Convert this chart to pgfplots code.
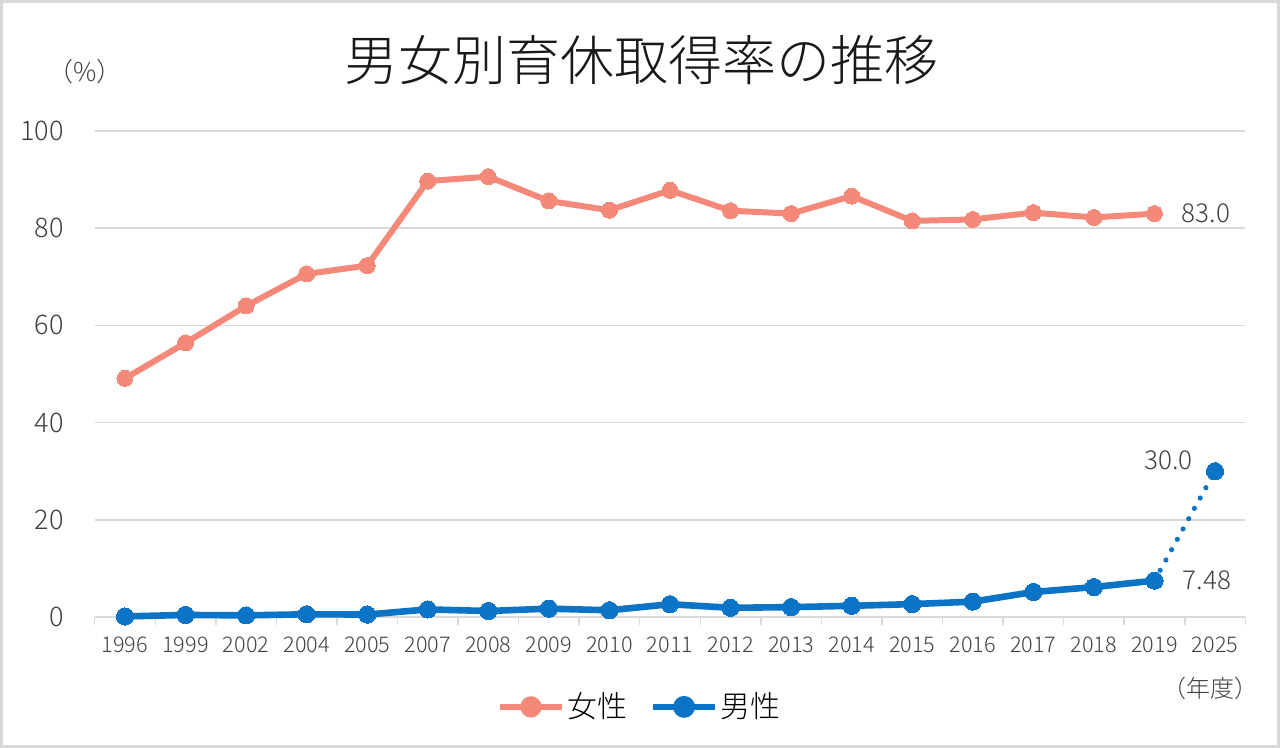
\documentclass[border=0pt]{standalone}
\usepackage{fontspec}
\setmainfont{Noto Sans CJK JP Light}
\usepackage{pgfplots}
\pgfplotsset{compat=1.18}
\definecolor{pinkc}{HTML}{F4897A}
\definecolor{bluec}{HTML}{0B74C7}
\definecolor{gridc}{HTML}{D9D9D9}
\definecolor{txtc}{HTML}{404040}
\begin{document}
\begin{tikzpicture}
\useasboundingbox (0,0) rectangle (640pt,374pt);
\fill[white] (0,0) rectangle (640pt,374pt);
\draw[gridc, line width=1.5pt] (0.75pt,0.75pt) rectangle (639.25pt,373.25pt);
\node[font=\fontsize{27}{31}\selectfont, text=black!90] at (320.5pt,344pt) {男女別育休取得率の推移};
\node[font=\fontsize{13}{15}\selectfont, text=txtc] at (42.5pt,338pt) {（\%）};
\node[font=\fontsize{12}{14}\selectfont, text=txtc] at (605pt,30pt) {（年度）};
\begin{axis}[
  at={(47.35pt,65.5pt)}, anchor=south west,
  scale only axis, width=575.3pt, height=243pt,
  xmin=-0.5, xmax=18.5, ymin=0, ymax=100,
  axis line style={draw=none},
  /pgf/number format/assume math mode=true,
  xtick={0,...,18},
  xticklabels={1996,1999,2002,2004,2005,2007,2008,2009,2010,2011,2012,2013,2014,2015,2016,2017,2018,2019,2025},
  minor xtick={-0.5,0.5,...,18.5},
  ytick={0,20,...,100},
  major tick length=0pt,
  minor tick length=4pt,
  xtick pos=bottom, ytick pos=left,
  tick align=outside,
  minor tick style={gridc, line width=0.75pt},
  ymajorgrids,
  grid style={gridc, line width=0.75pt},
  xticklabel style={font=\fontsize{10.8}{12}\selectfont, text=txtc, yshift=-6.5pt},
  yticklabel style={font=\fontsize{13.5}{15}\selectfont, text=txtc, xshift=-12pt},
  clip=false,
  legend style={at={(0.474,-0.185)}, anchor=center, draw=none, fill=none,
    font=\fontsize{15}{18}\selectfont, legend columns=2,
    /tikz/every even column/.append style={column sep=10pt},
    nodes={inner sep=1.2pt}},
  legend image code/.code={\draw[#1,mark=none] (0pt,0pt) -- (31pt,0pt); \fill[#1] (15.5pt,0pt) circle (3.8pt);},
]
\addplot[pinkc, line width=3pt, mark=*, mark size=4pt, mark options={solid, fill=pinkc, draw=pinkc, line width=0pt}]
coordinates {(0,49.1)(1,56.4)(2,64.0)(3,70.6)(4,72.3)(5,89.7)(6,90.6)(7,85.6)(8,83.7)(9,87.8)(10,83.6)(11,83.0)(12,86.6)(13,81.5)(14,81.8)(15,83.2)(16,82.2)(17,83.0)};
\addlegendentry{女性}
\addplot[bluec, line width=3.3pt, mark=*, mark size=4.3pt, mark options={solid, fill=bluec, draw=bluec, line width=0pt}]
coordinates {(0,0.12)(1,0.42)(2,0.33)(3,0.56)(4,0.50)(5,1.56)(6,1.23)(7,1.72)(8,1.38)(9,2.63)(10,1.89)(11,2.03)(12,2.30)(13,2.65)(14,3.16)(15,5.14)(16,6.16)(17,7.48)};
\addlegendentry{男性}
\addplot[bluec, line width=2.6pt, line cap=round, dash pattern=on 0pt off 5.9pt, forget plot]
coordinates {(17,7.48)(18,30.0)};
\addplot[bluec, only marks, mark=*, mark size=4.3pt, mark options={fill=bluec, draw=bluec, line width=0pt}, forget plot]
coordinates {(18,30.0)};
\node[anchor=west, inner sep=0pt, font=\fontsize{13}{15}\selectfont, text=txtc, xshift=13.5pt] at (axis cs:17,83) {83.0};
\node[anchor=west, inner sep=0pt, font=\fontsize{13}{15}\selectfont, text=txtc, xshift=14pt] at (axis cs:17,7.48) {7.48};
\node[anchor=east, inner sep=0pt, font=\fontsize{13}{15}\selectfont, text=txtc, xshift=-11pt, yshift=5.5pt] at (axis cs:18,30) {30.0};
\end{axis}
\end{tikzpicture}
\end{document}
